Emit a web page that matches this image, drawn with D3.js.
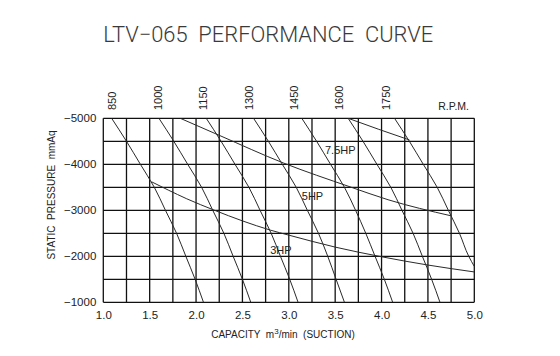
<!DOCTYPE html>
<html><head><meta charset="utf-8">
<script src="https://cdn.jsdelivr.net/npm/d3@7"></script>
<style>
body{margin:0;background:#fff}
svg{display:block}
text{font-family:"Liberation Sans",Arial,sans-serif;fill:#222}
</style>
</head><body><svg id="c" width="560" height="356"></svg>
<script>
// ---------- data ----------
const title = "LTV\u2212065  PERFORMANCE  CURVE";
const xTitle = "CAPACITY  m";
const xTicks = [1.0, 1.5, 2.0, 2.5, 3.0, 3.5, 4.0, 4.5, 5.0];
const yTicks = [-5000, -4000, -3000, -2000, -1000];
const xGrid = [1.0,1.25,1.5,1.75,2.0,2.25,2.5,2.75,3.0,3.25,3.5,3.75,4.0,4.25,4.5,4.75,5.0];
const yGrid = [-5000,-4500,-4000,-3500,-3000,-2500,-2000,-1500,-1000];

const rpmNames = ["850", "1000", "1150", "1300", "1450", "1600", "1750"];
const rpmLabelAt = [1.094, 1.594, 2.08, 2.57, 3.055, 3.54, 4.05];
const rpm850  = [[1.09,-5000],[1.25,-4500],[1.40,-4000],[1.55,-3500],[1.67,-3000],[1.79,-2500],[1.89,-2000],[1.99,-1500],[2.08,-1000]];
const rpm1000 = [[1.60,-5000],[1.76,-4500],[1.91,-4000],[2.06,-3500],[2.18,-3000],[2.30,-2500],[2.40,-2000],[2.50,-1500],[2.59,-1000]];
const rpm1150 = [[2.11,-5000],[2.27,-4500],[2.42,-4000],[2.57,-3500],[2.69,-3000],[2.81,-2500],[2.91,-2000],[3.01,-1500],[3.10,-1000]];
const rpm1300 = [[2.62,-5000],[2.78,-4500],[2.93,-4000],[3.08,-3500],[3.20,-3000],[3.32,-2500],[3.42,-2000],[3.51,-1500],[3.60,-1000]];
const rpm1450 = [[3.14,-5000],[3.30,-4500],[3.45,-4000],[3.60,-3500],[3.72,-3000],[3.83,-2500],[3.93,-2000],[4.03,-1500],[4.12,-1000]];
const rpm1600 = [[3.64,-5000],[3.80,-4500],[3.95,-4000],[4.10,-3500],[4.22,-3000],[4.34,-2500],[4.44,-2000],[4.54,-1500],[4.63,-1000]];
const rpm1750 = [[4.14,-5000],[4.30,-4500],[4.45,-4000],[4.60,-3500],[4.72,-3000],[4.84,-2500],[4.94,-2000],[5.00,-1780]];

const hpNames = ["3HP", "5HP", "7.5HP"];
const hpLabelAt = [[2.80,-2050],[3.14,-3230],[3.39,-4230]];
const hp3  = [[1.52,-3620],[1.70,-3440],[1.90,-3250],[2.20,-3000],[2.50,-2770],[2.80,-2570],[3.00,-2460],[3.50,-2200],[4.00,-1990],[4.50,-1810],[5.00,-1660]];
const hp5  = [[1.83,-5000],[2.25,-4630],[2.94,-4030],[3.66,-3510],[4.07,-3230],[4.75,-2880]];
const hp75 = [[3.64,-5000],[3.97,-4760],[4.30,-4530]];

const rpmSeries = [rpm850, rpm1000, rpm1150, rpm1300, rpm1450, rpm1600, rpm1750];
const hpSeries = [hp3, hp5, hp75];

// ---------- layout ----------
const svg = d3.select("#c");
const L = 103.3, R = 474.3, T = 118.3, B = 302.3;
const x = d3.scaleLinear().domain([1, 5]).range([L, R]);
const y = d3.scaleLinear().domain([-5000, -1000]).range([T, B]);

svg.append("defs").append("clipPath").attr("id","clip")
  .append("rect").attr("x",L).attr("y",T).attr("width",R-L).attr("height",B-T);

// title
svg.append("text").attr("x", 268.3).attr("y", 41.7)
  .attr("text-anchor","middle").attr("textLength",330).attr("lengthAdjust","spacingAndGlyphs")
  .style("white-space","pre").style("font-family","Roboto,'Liberation Sans',sans-serif")
  .style("font-weight",300).style("font-size","22px").style("fill","#3a3a3a")
  .text(title);

// grid
const g = svg.append("g");
g.selectAll(".vg").data(xGrid).join("line")
  .attr("x1",d=>x(d)).attr("x2",d=>x(d)).attr("y1",T).attr("y2",B)
  .attr("stroke","#111").attr("stroke-width",1.3);
g.selectAll(".hg").data(yGrid).join("line")
  .attr("y1",d=>y(d)).attr("y2",d=>y(d)).attr("x1",L).attr("x2",R)
  .attr("stroke","#111").attr("stroke-width",1.3);

// axes tick labels
const xAxis = d3.axisBottom(x).tickValues(xTicks).tickFormat(d3.format(".1f")).tickSize(0).tickPadding(9);
const xa = svg.append("g").attr("transform",`translate(0,${B})`).call(xAxis);
xa.select(".domain").remove();
xa.selectAll("text").style("font-size","11.5px").style("font-family","'Liberation Sans',Arial,sans-serif").attr("fill","#222");

const yAxis = d3.axisLeft(y).tickValues(yTicks).tickFormat(d=>"\u2212"+Math.abs(d)).tickSize(0).tickPadding(7);
const ya = svg.append("g").attr("transform",`translate(${L},0)`).call(yAxis);
ya.select(".domain").remove();
ya.selectAll("text").style("font-size","11.5px").style("font-family","'Liberation Sans',Arial,sans-serif").attr("fill","#222");

// axis titles
const xt = svg.append("text").attr("x",283).attr("y",338.3).attr("text-anchor","middle")
  .style("white-space","pre").style("font-size","10px");
xt.append("tspan").text(xTitle);
xt.append("tspan").attr("dy",-4).style("font-size","8px").text("3");
xt.append("tspan").attr("dy",4).text("/min  (SUCTION)");

svg.append("text").attr("transform","translate(51,195) rotate(-90)")
  .attr("text-anchor","middle").attr("dy","0.35em")
  .style("white-space","pre").style("font-size","10px")
  .text("STATIC  PRESSURE  mmAq");

// curves
const line = d3.line().x(d=>x(d[0])).y(d=>y(d[1])).curve(d3.curveMonotoneY);
const lineH = d3.line().x(d=>x(d[0])).y(d=>y(d[1])).curve(d3.curveMonotoneX);
const cg = svg.append("g").attr("clip-path","url(#clip)");
cg.selectAll(".rpm").data(rpmSeries).join("path")
  .attr("d",line).attr("fill","none").attr("stroke","#2a2a2a").attr("stroke-width",1);
cg.selectAll(".hp").data(hpSeries).join("path")
  .attr("d",lineH).attr("fill","none").attr("stroke","#2a2a2a").attr("stroke-width",1);

// rpm labels
svg.selectAll(".rl").data(rpmNames).join("text")
  .attr("transform",(d,i)=>`translate(${x(rpmLabelAt[i])},110) rotate(-90)`)
  .attr("dy","0.35em").style("font-size","11px").text(d=>d);
svg.append("text").attr("x",469).attr("y",110).attr("text-anchor","end")
  .style("font-size","10.5px").text("R.P.M.");

// hp labels
svg.selectAll(".hl").data(hpNames).join("text")
  .attr("x",(d,i)=>x(hpLabelAt[i][0])).attr("y",(d,i)=>y(hpLabelAt[i][1]))
  .style("font-size","11px").text(d=>d);
</script>
</body></html>
